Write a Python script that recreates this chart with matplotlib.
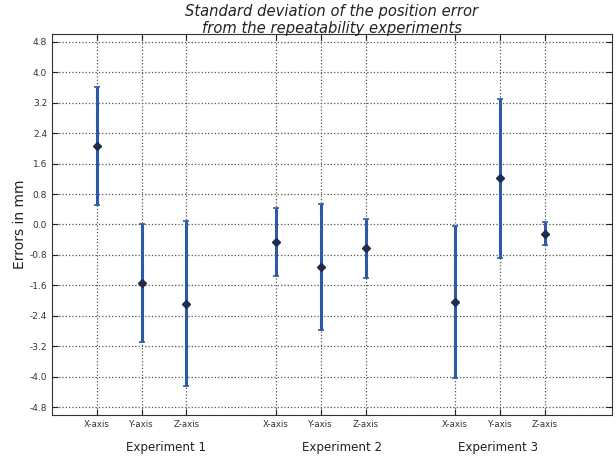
import matplotlib
matplotlib.use("Agg")
import matplotlib.pyplot as plt

axes_names = ["X-axis", "Y-axis", "Z-axis"]
experiments = ["Experiment 1", "Experiment 2", "Experiment 3"]
positions = [1, 2, 3, 5, 6, 7, 9, 10, 11]
means = [2.06, -1.54, -2.08, -0.46, -1.11, -0.63, -2.03, 1.21, -0.24]
stds = [1.56, 1.55, 2.17, 0.88, 1.65, 0.77, 2.00, 2.08, 0.30]

fig = plt.figure(figsize=(6.16, 4.59), dpi=100)
ax = fig.add_axes([0.0844, 0.0959, 0.909, 0.830])

ax.errorbar(positions, means, yerr=stds, fmt="D", color="#2b5aa6",
            ecolor="#2b5aa6", elinewidth=2.2, capsize=2.5, capthick=1.2,
            markersize=4.5, markerfacecolor="#1e2d4d", markeredgecolor="#1e2d4d")

ax.set_xlim(0, 12.5)
ax.set_ylim(-5, 5)
ax.set_yticks([-4.8 + 0.8 * i for i in range(13)])
ax.set_yticklabels(["%.1f" % (-4.8 + 0.8 * i) for i in range(13)], fontsize=6.5)
ax.set_xticks(positions)
ax.set_xticklabels(axes_names * 3, fontsize=6.2)
ax.tick_params(direction="in", top=True, right=True, length=4, colors="#222222",
               labelcolor="#333333")
ax.grid(True, linestyle=":", color="#555555", linewidth=0.9)
for s in ax.spines.values():
    s.set_color("#333333")

ax.set_ylabel("Errors in mm", fontsize=10, color="#222222", labelpad=2)
ax.set_title("Standard deviation of the position error\nfrom the repeatability experiments",
             fontsize=10.6, style="italic", color="#222222", linespacing=1.15, pad=1)

for x, name in zip([0.269, 0.555, 0.808], experiments):
    fig.text(x, 0.026, name, ha="center", va="center", fontsize=8.6, color="#222222")

fig.savefig("out.png", dpi=100)
